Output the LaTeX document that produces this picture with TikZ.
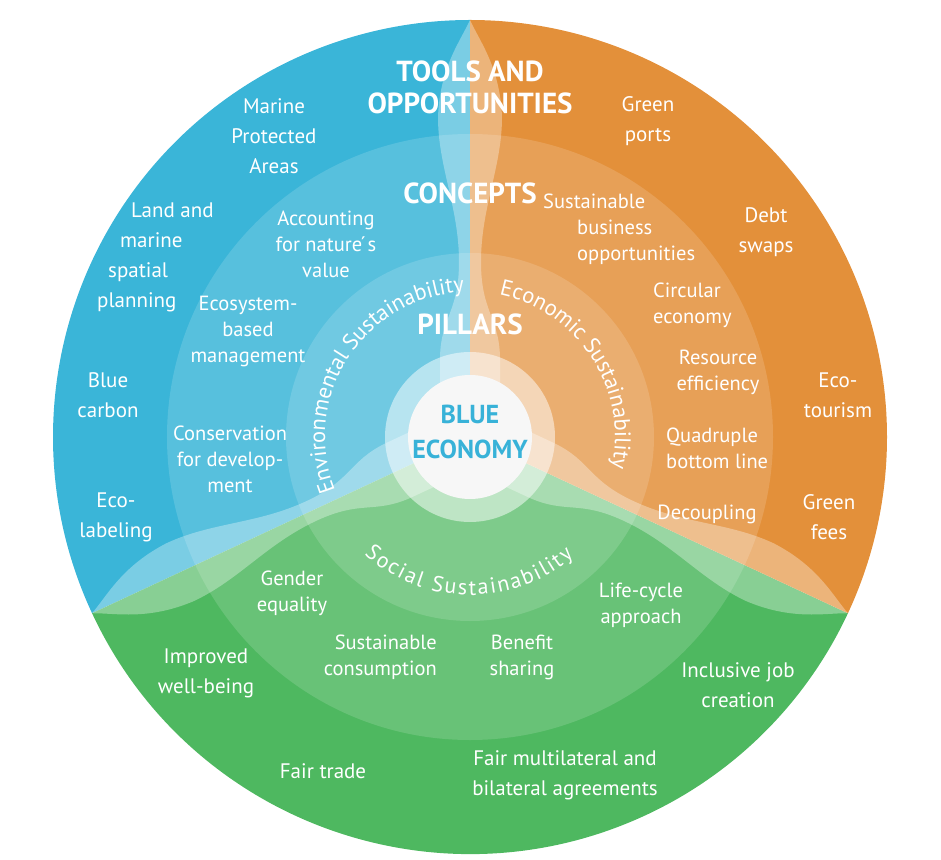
\documentclass[tikz,border=0pt]{standalone}
\usepackage{fontspec}
\setmainfont{PT Sans}
\usepackage{xcolor}
\usetikzlibrary{positioning,decorations.text}

\definecolor{seablue}{RGB}{58,181,216}
\definecolor{sandorange}{RGB}{227,144,58}
\definecolor{kelpgreen}{RGB}{78,184,96}
\definecolor{titleblue}{RGB}{56,178,216}

\begin{document}
\begin{tikzpicture}[x=1pt,y=1pt,
    ring/.style={fill=white,fill opacity=0.15},
    ribbon/.style={fill=white,fill opacity=0.33},
    head node/.style={text=white,font=\fontsize{29}{32}\selectfont\bfseries,align=center,inner sep=0pt},
    outer node/.style={text=white,font=\fontsize{21}{30}\selectfont,align=center,inner sep=0pt},
    inner node/.style={text=white,font=\fontsize{20.5}{26}\selectfont,align=center,inner sep=0pt},
    pillar text/.style={decorate,decoration={text along path,text align=center,text color=white,
      text={|\fontsize{22.5}{24}\selectfont|#1}}}]

\useasboundingbox (-470,-422) rectangle (471,437);

% three sectors
\fill[seablue] (0,0) -- (90:417) arc[start angle=90,end angle=205,radius=417] -- cycle;
\fill[kelpgreen] (0,0) -- (205:417) arc[start angle=205,end angle=335,radius=417] -- cycle;
\fill[sandorange] (0,0) -- (-25:417) arc[start angle=-25,end angle=90,radius=417] -- cycle;

% concept and pillar rings
\fill[ring] (0,0) circle[radius=303];
\fill[ring] (0,0) circle[radius=184];

% wavy ribbons on the borders
\begin{scope}
  \clip (0,0) circle[radius=417];
  \foreach \a in {90,205,335}
    \fill[ribbon,rotate=\a] (417,0) .. controls (395,10) and (370,30) .. (320,32)
      .. controls (270,32) and (230,11) .. (175,11)
      .. controls (125,11) and (120,29) .. (80,30) -- (0,30) -- (0,-30) -- (80,-30)
      .. controls (120,-29) and (125,-11) .. (175,-11)
      .. controls (230,-11) and (270,-32) .. (320,-32)
      .. controls (370,-30) and (395,-10) .. (417,0) -- cycle;
\end{scope}

% centre
\fill[white,fill opacity=0.5] (0,0) circle[radius=85];
\fill[black!3] (0,0) circle[radius=62];

\node[head node,text=titleblue,font=\fontsize{26}{35}\selectfont\bfseries] (be) at (0,5) {BLUE\\ECONOMY};
\node[head node] (pillars) [above of = be, node distance=108pt] {PILLARS};
\node[head node] (concepts) [above of = pillars, node distance=131pt] {CONCEPTS};
\node[head node] (tools) [above of = concepts, node distance=106pt] {TOOLS AND\\OPPORTUNITIES};

% pillars
\path[pillar text={Environmental Sustainability}]
  (227:145) arc[start angle=227,end angle=67,radius=145];
\path[pillar text={Economic Sustainability}]
  (113:145) arc[start angle=113,end angle=-47,radius=145];
\path[pillar text={Social Sustainability},
  decoration={text align=fit to path,text={|\fontsize{22}{24}\selectfont|Social Sustainability}}]
  (228:158) arc[start angle=228,end angle=311,radius=158];

% blue side
\node[outer node] (mpa) at (-196,301) {Marine\\Protected\\Areas};
\node[outer node,align=left,anchor=west] (lmsp) at (-373,180) {\hspace*{34pt}Land and\\\hspace*{23pt}marine\\\hspace*{11pt}spatial\\planning};
\node[outer node] (bc) at (-362,42) {Blue\\carbon};
\node[outer node] (el) at (-354,-80) {Eco-\\labeling};
\node[inner node] (anv) at (-144,193) {Accounting\\for nature\'{}s\\value};
\node[inner node] (ebm) at (-222,106) {Ecosystem-\\based\\management};
\node[inner node] (cfd) at (-240,-22) {Conservation\\for develop-\\ment};

% orange side
\node[outer node] (gp) at (178,316) {Green\\ports};
\node[outer node] (ds) at (296,205) {Debt\\swaps};
\node[outer node] (et) at (368,42) {Eco-\\tourism};
\node[outer node] (gf) at (359,-80) {Green\\fees};
\node[inner node,align=left,anchor=west] (sbo) at (73,208) {Sustainable\\\hspace*{34pt}business\\\hspace*{34pt}opportunities};
\node[inner node,align=left,anchor=west] (ce) at (183,132) {Circular\\economy};
\node[inner node] (re) at (248,65) {Resource\\efficiency};
\node[inner node,align=left,anchor=west] (qbl) at (196,-11) {Quadruple\\bottom line};
\node[inner node] (dc) at (237,-77) {Decoupling};

% green side
\node[inner node] (ge) at (-178,-156) {Gender\\equality};
\node[inner node,align=right,anchor=east] (sc) at (-33,-220) {Sustainable\\consumption};
\node[inner node] (bs) at (52,-220) {Benefit\\sharing};
\node[inner node] (lca) at (171,-168) {Life-cycle\\approach};
\node[outer node] (iwb) at (-264,-236) {Improved\\well-being};
\node[outer node] (ijc) at (268,-248) {Inclusive job\\creation};
\node[outer node] (ft) at (-147,-334) {Fair trade};
\node[outer node] (fma) at (95,-338) {Fair multilateral and\\bilateral agreements};

\end{tikzpicture}
\end{document}
